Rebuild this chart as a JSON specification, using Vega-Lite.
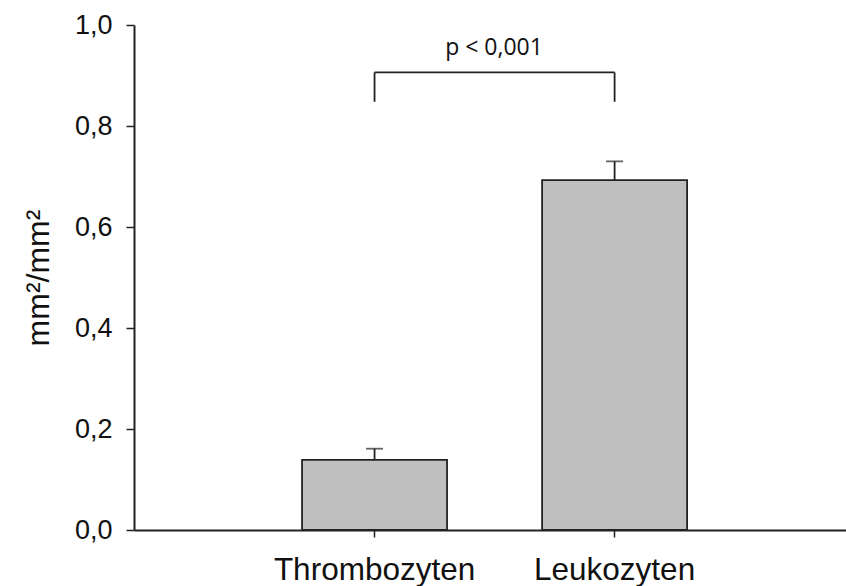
{
  "$schema": "https://vega.github.io/schema/vega-lite/v6.json",
  "width": 712,
  "height": 505,
  "autosize": "none",
  "padding": {"left": 134, "top": 25, "right": 0, "bottom": 56},
  "background": "white",
  "config": {"view": {"stroke": null}, "font": "Liberation Sans"},
  "datasets": {
    "bars": [
      {"gruppe": "Thrombozyten", "wert": 0.139, "oben": 0.161},
      {"gruppe": "Leukozyten", "wert": 0.693, "oben": 0.730}
    ],
    "klammer": [
      {"von": "Thrombozyten", "bis": "Leukozyten", "hoehe": 0.906, "fuss": 0.848, "textY": 0.941, "label": "p < 0,001"}
    ],
    "fuesse": [
      {"gruppe": "Thrombozyten", "hoehe": 0.906, "fuss": 0.848},
      {"gruppe": "Leukozyten", "hoehe": 0.906, "fuss": 0.848}
    ]
  },
  "encoding": {
    "x": {
      "field": "gruppe",
      "type": "nominal",
      "sort": ["Thrombozyten", "Leukozyten"],
      "scale": {"domain": ["Thrombozyten", "Leukozyten"], "paddingInner": 0.396, "paddingOuter": 0.681, "align": 0.514},
      "axis": {
        "title": null,
        "labelAngle": 0,
        "labelLimit": 0,
        "labelFont": "Liberation Sans",
        "labelFontSize": 31.5,
        "labelColor": "#111",
        "labelBaseline": "alphabetic",
        "labelPadding": 42,
        "tickSize": 7,
        "tickWidth": 1.5,
        "tickColor": "#222",
        "domainColor": "#222",
        "domainWidth": 2
      }
    }
  },
  "layer": [
    {
      "data": {"name": "bars"},
      "mark": {"type": "bar", "color": "#c0c0c0", "stroke": "#222", "strokeWidth": 1.8},
      "encoding": {
        "y": {
          "field": "wert",
          "type": "quantitative",
          "scale": {"domain": [0, 1], "nice": false},
          "axis": {
            "title": "mm²/mm²",
            "titleFont": "Liberation Sans",
            "titleFontSize": 32,
            "titleFontWeight": "normal",
            "titleColor": "#111",
            "titlePadding": 19,
            "values": [0, 0.2, 0.4, 0.6, 0.8, 1.0],
            "labelExpr": "replace(format(datum.value, '.1f'), '.', ',')",
            "labelFontSize": 27,
            "labelColor": "#111",
            "labelPadding": 14,
            "tickSize": 8,
            "tickWidth": 1.5,
            "tickColor": "#222",
            "domainColor": "#222",
            "domainWidth": 2,
            "grid": false
          }
        }
      }
    },
    {
      "data": {"name": "bars"},
      "mark": {"type": "rule", "color": "#222", "strokeWidth": 1.8},
      "encoding": {
        "y": {"field": "wert", "type": "quantitative"},
        "y2": {"field": "oben"}
      }
    },
    {
      "data": {"name": "bars"},
      "mark": {"type": "tick", "color": "#222", "size": 17, "thickness": 1.8, "orient": "horizontal"},
      "encoding": {
        "y": {"field": "oben", "type": "quantitative"}
      }
    },
    {
      "data": {"name": "klammer"},
      "mark": {"type": "rule", "color": "#222", "strokeWidth": 1.8},
      "encoding": {
        "x": {"field": "von", "type": "nominal"},
        "x2": {"field": "bis"},
        "y": {"field": "hoehe", "type": "quantitative"}
      }
    },
    {
      "data": {"name": "fuesse"},
      "mark": {"type": "rule", "color": "#222", "strokeWidth": 1.8},
      "encoding": {
        "y": {"field": "fuss", "type": "quantitative"},
        "y2": {"field": "hoehe"}
      }
    },
    {
      "data": {"name": "klammer"},
      "mark": {"type": "text", "font": "Open Sans", "fontSize": 23, "color": "#111", "baseline": "alphabetic", "align": "center", "dx": 4},
      "encoding": {
        "x": null,
        "y": {"field": "textY", "type": "quantitative"},
        "text": {"field": "label"}
      }
    }
  ]
}
